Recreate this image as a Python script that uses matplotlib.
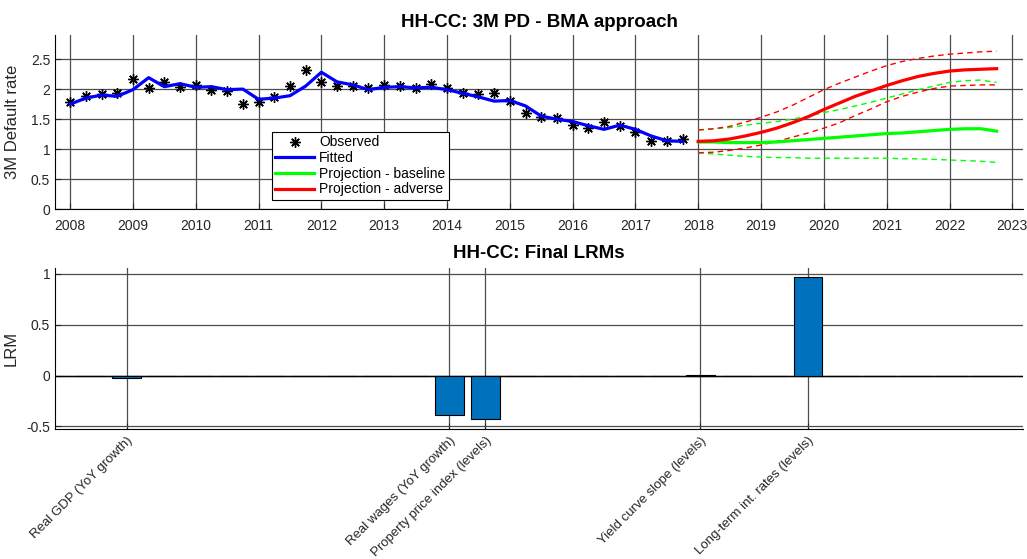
import numpy as np
import matplotlib
matplotlib.use("Agg")
import matplotlib.pyplot as plt

plt.rcParams['font.family'] = ['Liberation Sans', 'DejaVu Sans']

# quarterly observed default rate and fitted values, 2008Q1 - 2017Q4
observed = [1.79, 1.89, 1.92, 1.93, 2.16, 2.02, 2.12, 2.03, 2.06, 1.98,
            1.96, 1.76, 1.79, 1.86, 2.05, 2.31, 2.11, 2.05, 2.05, 2.02,
            2.07, 2.05, 2.01, 2.09, 2.02, 1.93, 1.92, 1.93, 1.80, 1.61,
            1.54, 1.52, 1.41, 1.36, 1.46, 1.38, 1.28, 1.14, 1.13, 1.17]
fitted = [1.75, 1.85, 1.90, 1.88, 1.99, 2.19, 2.04, 2.09, 2.03, 2.04,
          1.99, 2.00, 1.83, 1.85, 1.89, 2.05, 2.28, 2.12, 2.07, 1.99,
          2.03, 2.04, 2.02, 2.03, 1.99, 1.93, 1.87, 1.80, 1.81, 1.72,
          1.55, 1.50, 1.46, 1.39, 1.33, 1.40, 1.33, 1.22, 1.14, 1.13]

# projections 2018Q1 - 2022Q4
base = [1.12, 1.12, 1.11, 1.11, 1.11, 1.12, 1.14, 1.16, 1.18, 1.20,
        1.22, 1.24, 1.26, 1.27, 1.29, 1.31, 1.33, 1.34, 1.34, 1.30]
base_hi = [1.32, 1.34, 1.36, 1.40, 1.43, 1.46, 1.50, 1.55, 1.61, 1.66,
           1.72, 1.78, 1.85, 1.92, 1.99, 2.05, 2.11, 2.14, 2.15, 2.11]
base_lo = [0.94, 0.92, 0.90, 0.88, 0.87, 0.86, 0.86, 0.85, 0.85, 0.85,
           0.85, 0.85, 0.85, 0.84, 0.84, 0.83, 0.82, 0.81, 0.80, 0.78]
adv = [1.13, 1.14, 1.17, 1.22, 1.28, 1.35, 1.44, 1.54, 1.66, 1.77,
       1.88, 1.97, 2.06, 2.14, 2.21, 2.26, 2.30, 2.32, 2.33, 2.34]
adv_hi = [1.32, 1.34, 1.38, 1.45, 1.53, 1.62, 1.73, 1.86, 1.99, 2.10,
          2.20, 2.30, 2.39, 2.46, 2.51, 2.55, 2.58, 2.60, 2.62, 2.63]
adv_lo = [0.94, 0.95, 0.98, 1.02, 1.07, 1.13, 1.20, 1.27, 1.35, 1.44,
          1.56, 1.67, 1.79, 1.88, 1.95, 2.01, 2.05, 2.06, 2.07, 2.07]

# long-run multipliers per candidate variable (26 candidates)
lrm = [0, -0.026, 0, 0, 0, 0, 0, 0, 0, 0, -0.39, -0.43, 0, 0, 0, 0, 0,
       0.006, 0, 0, 0.965, 0, 0, 0, 0, 0]
var_labels = ['', 'Real GDP (YoY growth)', '', '', '', '', '', '', '', '',
              'Real wages (YoY growth)', 'Property price index (levels)',
              '', '', '', '', '', 'Yield curve slope (levels)', '', '',
              'Long-term int. rates (levels)', '', '', '', '', '']

t_hist = 2008 + 0.25 * np.arange(len(observed))
t_proj = 2018 + 0.25 * np.arange(len(base))

grid_kw = dict(color='#4d4d4d', lw=0.9)
txt = '#262626'
dash = (4, 3)

fig = plt.figure(figsize=(10.27, 5.59), dpi=100)

# ---- top panel: default rate ----
ax1 = fig.add_axes([0.0536, 0.6256, 0.9425, 0.3118])
ax1.plot(t_proj, base_hi, '--', color='#00ff00', lw=1.0, dashes=dash)
ax1.plot(t_proj, base_lo, '--', color='#00ff00', lw=1.0, dashes=dash)
ax1.plot(t_proj, adv_hi, '--', color='#ff0000', lw=1.0, dashes=dash)
ax1.plot(t_proj, adv_lo, '--', color='#ff0000', lw=1.0, dashes=dash)
h_obs, = ax1.plot(t_hist, observed, linestyle='none', marker=(8, 2, 0), color='k',
                  ms=7.5, mew=1.0, label='Observed')
h_fit, = ax1.plot(t_hist, fitted, '-', color='#0000ff', lw=2.3, label='Fitted')
h_base, = ax1.plot(t_proj, base, '-', color='#00ff00', lw=2.3, label='Projection - baseline')
h_adv, = ax1.plot(t_proj, adv, '-', color='#ff0000', lw=2.3, label='Projection - adverse')

ax1.set_xlim(2007.76, 2023.17)
ax1.set_ylim(0, 2.9)
ax1.set_xticks(np.arange(2008, 2024))
ax1.set_yticks([0, 0.5, 1, 1.5, 2, 2.5])
ax1.set_yticklabels(['0', '0.5', '1', '1.5', '2', '2.5'])
ax1.grid(True, **grid_kw)
ax1.set_axisbelow(True)
ax1.set_ylabel('3M Default rate', fontsize=12, color=txt)
ax1.yaxis.set_label_coords(-0.036, 0.5)
ax1.set_title('HH-CC: 3M PD - BMA approach', fontsize=13.5, fontweight='bold', pad=6)
leg = ax1.legend(handles=[h_obs, h_fit, h_base, h_adv], loc='upper left',
                 bbox_to_anchor=(272 / 1027, 1 - 132 / 559), bbox_transform=fig.transFigure,
                 fontsize=10, frameon=True, fancybox=False, edgecolor='k', framealpha=1,
                 borderpad=0.25, labelspacing=0.12, handlelength=2.8, handletextpad=0.35,
                 borderaxespad=0)
leg.get_frame().set_linewidth(0.8)

# ---- bottom panel: LRMs ----
ax2 = fig.add_axes([0.0536, 0.2326, 0.9425, 0.2885])
pos = np.arange(1, len(lrm) + 1)
ax2.bar(pos, lrm, width=0.8, color='#0072bd', edgecolor='k', lw=0.8, zorder=3)
ax2.axhline(0, color='k', lw=1.0, zorder=2)
ax2.set_xlim(0, len(lrm) + 1)
ax2.set_ylim(-0.525, 1.06)
ax2.set_yticks([-0.5, 0, 0.5, 1])
ax2.set_yticklabels(['-0.5', '0', '0.5', '1'])
ticks = [p for p, s in zip(pos, var_labels) if s]
ax2.set_xticks(ticks)
ax2.set_xticklabels([s for s in var_labels if s], rotation=45, ha='right',
                    rotation_mode='anchor', fontsize=9.5, color=txt)
ax2.grid(True, **grid_kw)
ax2.set_axisbelow(True)
ax2.set_ylabel('LRM', fontsize=12, color=txt)
ax2.yaxis.set_label_coords(-0.038, 0.5)
ax2.set_title('HH-CC: Final LRMs', fontsize=13.5, fontweight='bold', pad=7)

for ax in (ax1, ax2):
    ax.spines['top'].set_visible(False)
    ax.spines['right'].set_visible(False)
    ax.spines['left'].set_color('k')
    ax.spines['bottom'].set_color('k')
    ax.tick_params(direction='in', length=4, labelsize=10, colors=txt)
ax1.tick_params(axis='x', pad=7)
ax2.tick_params(axis='x', pad=4, labelsize=9.5)

fig.savefig('out.png', dpi=100)
